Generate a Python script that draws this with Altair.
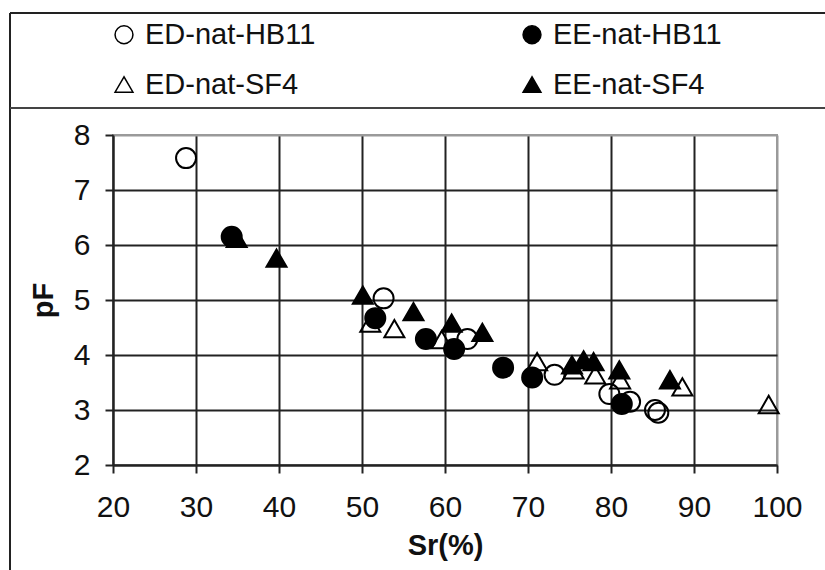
import altair as alt
import pandas as pd

# Series definitions (legend order)
series_names = ["ED-nat-HB11", "EE-nat-HB11", "ED-nat-SF4", "EE-nat-SF4"]
series_shapes = ["circle", "circle", "triangle-up", "triangle-up"]
series_fills = ["transparent", "black", "transparent", "black"]
series_strokes = ["black", "black", "black", "black"]

# Degree of saturation Sr (%) and suction pF for each series
ed_hb11_sr = [28.8, 52.6, 62.7, 73.2, 79.8, 82.3, 85.3, 85.7]
ed_hb11_pf = [7.58, 5.03, 4.29, 3.64, 3.29, 3.15, 3.00, 2.95]

ee_hb11_sr = [34.3, 51.6, 57.7, 61.1, 67.0, 70.5, 81.3]
ee_hb11_pf = [6.15, 4.67, 4.29, 4.11, 3.77, 3.59, 3.11]

ed_sf4_sr = [51.0, 53.9, 59.6, 71.1, 75.5, 78.1, 81.1, 88.6, 99.0]
ed_sf4_pf = [4.58, 4.48, 4.28, 3.88, 3.73, 3.64, 3.55, 3.42, 3.10]

ee_sf4_sr = [34.9, 39.7, 50.1, 56.2, 60.8, 64.5, 75.3, 76.7, 77.9, 81.0, 87.1]
ee_sf4_pf = [6.12, 5.76, 5.09, 4.79, 4.58, 4.41, 3.82, 3.91, 3.88, 3.73, 3.55]

x_ticks = [20, 30, 40, 50, 60, 70, 80, 90, 100]
y_ticks = [2, 3, 4, 5, 6, 7, 8]

rows = []
for name, xs, ys in [
    ("ED-nat-HB11", ed_hb11_sr, ed_hb11_pf),
    ("EE-nat-HB11", ee_hb11_sr, ee_hb11_pf),
    ("ED-nat-SF4", ed_sf4_sr, ed_sf4_pf),
    ("EE-nat-SF4", ee_sf4_sr, ee_sf4_pf),
]:
    for xv, yv in zip(xs, ys):
        rows.append({"series": name, "Sr": xv, "pF": yv})
df = pd.DataFrame(rows)
df["idx"] = range(len(df))

FONT = "Liberation Sans"

legend = alt.Legend(
    title=None,
    orient="none",
    legendX=-3.5,
    legendY=-115,
    direction="horizontal",
    columns=2,
    columnPadding=202,
    rowPadding=20,
    labelFont=FONT,
    labelFontSize=29,
    labelColor="#111",
    labelLimit=400,
    labelOffset=6.5,
    symbolSize=320,
    symbolStrokeWidth=1.5,
    symbolOpacity=1,
    padding=0,
)

grid_color = {"condition": {"test": "datum.value == 100 || datum.value == 8", "value": "#9a9a9a"}, "value": "#222"}

points = alt.Chart(df).mark_point(
    size=400, strokeWidth=2, opacity=1, fillOpacity=1
).encode(
    x=alt.X(
        "Sr:Q",
        scale=alt.Scale(domain=[20, 100], nice=False),
        axis=alt.Axis(
            values=x_ticks, title="Sr(%)", labelPadding=19, titlePadding=9,
            gridColor=grid_color,
        ),
    ),
    y=alt.Y(
        "pF:Q",
        scale=alt.Scale(domain=[2, 8], nice=False),
        axis=alt.Axis(
            values=y_ticks, title="pF", labelPadding=15, titlePadding=15,
            gridColor=grid_color,
        ),
    ),
    shape=alt.Shape("series:N", scale=alt.Scale(domain=series_names, range=series_shapes), legend=legend),
    fill=alt.Fill("series:N", scale=alt.Scale(domain=series_names, range=series_fills), legend=legend),
    stroke=alt.Stroke("series:N", scale=alt.Scale(domain=series_names, range=series_strokes), legend=legend),
    order=alt.Order("idx:Q"),
)

# Outer frame and legend separator lines
frame_data = pd.DataFrame({"k": [0]})
frame_left = alt.Chart(frame_data).mark_rule(color="#222", strokeWidth=2).encode(
    x=alt.value(-103), y=alt.value(-122), y2=alt.value(445)
)
frame_top = alt.Chart(frame_data).mark_rule(color="#222", strokeWidth=2).encode(
    x=alt.value(-103), x2=alt.value(720), y=alt.value(-122)
)
frame_sep = alt.Chart(frame_data).mark_rule(color="#444", strokeWidth=2).encode(
    x=alt.value(-103), x2=alt.value(720), y=alt.value(-27)
)

chart = alt.layer(points, frame_left, frame_top, frame_sep).properties(
    width=664,
    height=330,
    padding={"left": 113, "top": 135, "right": 48, "bottom": 105},
    autosize=alt.AutoSizeParams(type="none"),
    background="white",
).configure_view(
    stroke="#9a9a9a", strokeWidth=2
).configure_axis(
    labelFont=FONT,
    labelFontSize=30,
    labelColor="#111",
    labelFlush=False,
    labelOverlap=False,
    titleFont=FONT,
    titleFontSize=29,
    titleFontWeight="bold",
    titleColor="#111",
    tickSize=8,
    tickWidth=2,
    tickColor="#222",
    domainColor="#222",
    domainWidth=2,
    gridWidth=2,
    grid=True,
)

chart.save("out.html", embed_options={"renderer": "svg", "actions": False})
